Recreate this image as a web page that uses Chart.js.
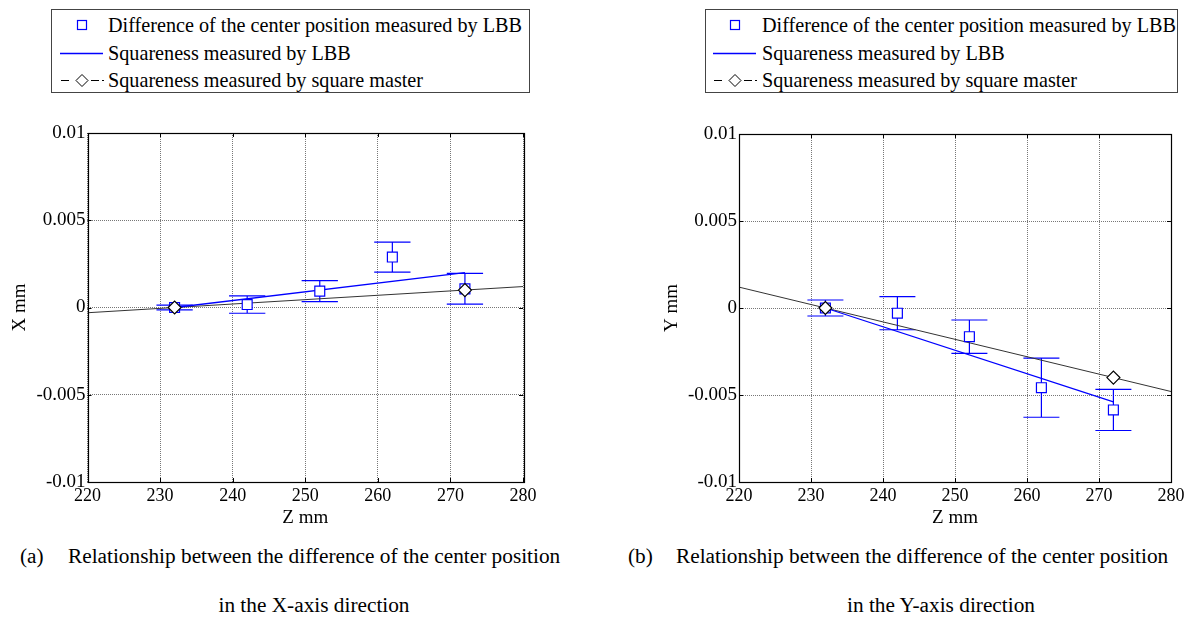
<!DOCTYPE html>
<html>
<head>
<meta charset="utf-8">
<script src="https://cdn.jsdelivr.net/npm/chart.js@4.4.1/dist/chart.umd.min.js"></script>
<style>
  body { margin: 0; background: #fff; width: 1193px; height: 617px; position: relative; overflow: hidden;
         font-family: "Liberation Serif", Tinos, "Times New Roman", Times, "DejaVu Serif", serif; color: #000; }
  canvas { position: absolute; top: 100px; }
  .legend { position: absolute; top: 9px; height: 84px; border: 1px solid #444; box-sizing: border-box; font-size: 20.2px; }
  .legend .row { position: absolute; left: 56px; white-space: nowrap; line-height: 24px; }
  .legend svg { position: absolute; left: 0; top: 0; }
  .cap { position: absolute; font-size: 21.3px; line-height: 26px; white-space: nowrap; }
</style>
</head>
<body>

<div class="legend" style="left:51px; width:479px;">
  <svg width="56" height="82">
    <rect x="25.5" y="10.5" width="9" height="9" fill="#fff" stroke="#0000ff" stroke-width="1.2"/>
    <line x1="8" y1="43.5" x2="51" y2="43.5" stroke="#0000ff" stroke-width="1.3"/>
    <line x1="9" y1="70.5" x2="17" y2="70.5" stroke="#000"/>
    <polygon points="24,70.5 30,64.5 36,70.5 30,76.5" fill="#fff" stroke="#000"/>
    <line x1="39" y1="70.5" x2="47" y2="70.5" stroke="#000"/>
    <line x1="50" y1="70.5" x2="52" y2="70.5" stroke="#000"/>
  </svg>
  <div class="row" style="top:3px;">Difference of the center position measured by LBB</div>
  <div class="row" style="top:31px;">Squareness measured by LBB</div>
  <div class="row" style="top:58px;">Squareness measured by square master</div>
</div>

<div class="legend" style="left:705px; width:473px;">
  <svg width="56" height="82">
    <rect x="24.5" y="10.5" width="9" height="9" fill="#fff" stroke="#0000ff" stroke-width="1.2"/>
    <line x1="7" y1="43.5" x2="50" y2="43.5" stroke="#0000ff" stroke-width="1.3"/>
    <line x1="8" y1="70.5" x2="16" y2="70.5" stroke="#000"/>
    <polygon points="23,70.5 29,64.5 35,70.5 29,76.5" fill="#fff" stroke="#000"/>
    <line x1="38" y1="70.5" x2="46" y2="70.5" stroke="#000"/>
    <line x1="49" y1="70.5" x2="51" y2="70.5" stroke="#000"/>
  </svg>
  <div class="row" style="top:3px;">Difference of the center position measured by LBB</div>
  <div class="row" style="top:31px;">Squareness measured by LBB</div>
  <div class="row" style="top:58px;">Squareness measured by square master</div>
</div>

<canvas id="chartX" width="596" height="440" style="left:0px;"></canvas>
<canvas id="chartY" width="597" height="440" style="left:596px;"></canvas>

<div class="cap" style="left:20px; top:543px;">(a)</div>
<div class="cap" style="left:68px; top:543px;">Relationship between the difference of the center position</div>
<div class="cap" style="left:0px; width:628px; text-align:center; top:592px;">in the X-axis direction</div>
<div class="cap" style="left:628px; top:543px;">(b)</div>
<div class="cap" style="left:676px; top:543px;">Relationship between the difference of the center position</div>
<div class="cap" style="left:628px; width:626px; text-align:center; top:592px;">in the Y-axis direction</div>

<script>
// eixos
const zTicks = [220, 230, 240, 250, 260, 270, 280];
const valueTicks = [-0.01, -0.005, 0, 0.005, 0.01];
const valueTickLabels = ['-0.01', '-0.005', '0', '0.005', '0.01'];

// pontos medidos pelo LBB (mesmo Z para os dois gráficos)
const zMeasured = [232, 242, 252, 262, 272];
const xDiff = [0.0000, 0.00017, 0.00094, 0.00289, 0.00107];
const xErr  = [0.00014, 0.0005, 0.0006, 0.00086, 0.00088];
const yDiff = [0.0000, -0.0003, -0.00165, -0.00458, -0.00586];
const yErr  = [0.00046, 0.00095, 0.00096, 0.0017, 0.00118];

// reta do LBB
const zLbb = [232, 272];
const xLbb = [0, 0.002];
const yLbb = [0, -0.0054];

// square master: pontos e reta
const zMaster = [232, 272];
const xMaster = [0, 0.001];
const yMaster = [0, -0.004];
const zMasterFit = [220, 280];
const xMasterFit = [-0.0003, 0.0012];
const yMasterFit = [0.0012, -0.0048];

const serif = '"Liberation Serif", Tinos, "Times New Roman", Times, "DejaVu Serif", serif';

// barras de erro desenhadas antes dos marcadores
const errorBars = {
    id: 'errorBars',
    beforeDatasetsDraw(chart, args, opts) {
        const { ctx, scales: { x, y } } = chart;
        ctx.save();
        ctx.strokeStyle = '#0000ff';
        ctx.lineWidth = 1.2;
        opts.z.forEach((z, i) => {
            const px = x.getPixelForValue(z);
            const pLeft = x.getPixelForValue(z - opts.capHalf);
            const pRight = x.getPixelForValue(z + opts.capHalf);
            const top = y.getPixelForValue(opts.values[i] + opts.err[i]);
            const bottom = y.getPixelForValue(opts.values[i] - opts.err[i]);
            ctx.beginPath();
            ctx.moveTo(px, top); ctx.lineTo(px, bottom);
            ctx.moveTo(pLeft, top); ctx.lineTo(pRight, top);
            ctx.moveTo(pLeft, bottom); ctx.lineTo(pRight, bottom);
            ctx.stroke();
        });
        ctx.restore();
    }
};

// moldura e ticks internos estilo MATLAB
const frameBox = {
    id: 'frameBox',
    afterDraw(chart) {
        const { ctx, chartArea: a, scales: { x, y } } = chart;
        ctx.save();
        ctx.strokeStyle = '#000';
        ctx.lineWidth = 1;
        ctx.beginPath();
        zTicks.forEach(v => {
            const px = Math.round(x.getPixelForValue(v)) + 0.5;
            ctx.moveTo(px, a.bottom); ctx.lineTo(px, a.bottom - 4);
            ctx.moveTo(px, a.top); ctx.lineTo(px, a.top + 4);
        });
        valueTicks.forEach(v => {
            const py = Math.round(y.getPixelForValue(v)) + 0.5;
            ctx.moveTo(a.left, py); ctx.lineTo(a.left + 4, py);
            ctx.moveTo(a.right, py); ctx.lineTo(a.right - 4, py);
        });
        ctx.stroke();
        ctx.lineWidth = 1.2;
        ctx.strokeRect(Math.round(a.left) + 0.5, Math.round(a.top) + 0.5,
            Math.round(a.right - a.left), Math.round(a.bottom - a.top));
        ctx.restore();
    }
};

function criarGrafico(id, values, err, lbb, master, masterFit, yTitle, padding) {
    const ctx = document.getElementById(id).getContext('2d');
    return new Chart(ctx, {
        type: 'scatter',
        data: {
            datasets: [
                {
                    label: 'Squareness measured by square master',
                    data: zMaster.map((z, i) => ({ x: z, y: master[i] })),
                    pointStyle: 'rectRot',
                    pointRadius: 6.5,
                    backgroundColor: '#fff',
                    borderColor: '#000',
                    borderWidth: 1.2,
                    order: 0
                },
                {
                    label: 'Difference of the center position measured by LBB',
                    data: zMeasured.map((z, i) => ({ x: z, y: values[i] })),
                    pointStyle: 'rect',
                    pointRadius: 7,
                    backgroundColor: '#fff',
                    borderColor: '#0000ff',
                    borderWidth: 1.2,
                    order: 1
                },
                {
                    label: 'Squareness measured by LBB',
                    data: zLbb.map((z, i) => ({ x: z, y: lbb[i] })),
                    showLine: true,
                    pointRadius: 0,
                    borderColor: '#0000ff',
                    borderWidth: 1.3,
                    order: 2
                },
                {
                    label: 'master fit',
                    data: zMasterFit.map((z, i) => ({ x: z, y: masterFit[i] })),
                    showLine: true,
                    pointRadius: 0,
                    borderColor: '#333',
                    borderWidth: 1,
                    order: 3
                }
            ]
        },
        options: {
            responsive: false,
            animation: false,
            events: [],
            layout: { padding: padding },
            plugins: {
                legend: { display: false },
                tooltip: { enabled: false },
                errorBars: { z: zMeasured, values: values, err: err, capHalf: 2.5 }
            },
            scales: {
                x: {
                    type: 'linear',
                    min: 220, max: 280,
                    afterBuildTicks: s => { s.ticks = zTicks.map(v => ({ value: v })); },
                    afterFit: s => { s.height = 58; },
                    ticks: { color: '#000', font: { family: serif, size: 18 }, padding: 3, maxRotation: 0, autoSkip: false,
                             callback: v => String(v) },
                    grid: { color: '#777', drawTicks: false, lineWidth: 1 },
                    border: { display: false, dash: [1, 1] },
                    title: { display: true, text: 'Z mm', color: '#000', font: { family: serif, size: 19 },
                             padding: { top: 0, bottom: 11 } }
                },
                y: {
                    type: 'linear',
                    min: -0.01, max: 0.01,
                    afterBuildTicks: s => { s.ticks = valueTicks.map(v => ({ value: v })); },
                    afterFit: s => { s.width = 87.5; },
                    ticks: { color: '#000', font: { family: serif, size: 19 }, padding: 2,
                             callback: (v, i) => valueTickLabels[i] },
                    grid: { color: '#777', drawTicks: false, lineWidth: 1 },
                    border: { display: false, dash: [1, 1] },
                    title: { display: true, text: yTitle, color: '#000', font: { family: serif, size: 19 },
                             padding: { top: 9, bottom: 0 } }
                }
            }
        },
        plugins: [errorBars, frameBox]
    });
}

criarGrafico('chartX', xDiff, xErr, xLbb, xMaster, xMasterFit, 'X mm', { left: 0, top: 33, right: 73, bottom: 0 });
criarGrafico('chartY', yDiff, yErr, yLbb, yMaster, yMasterFit, 'Y mm', { left: 55.5, top: 34, right: 22, bottom: 0 });
</script>
</body>
</html>
